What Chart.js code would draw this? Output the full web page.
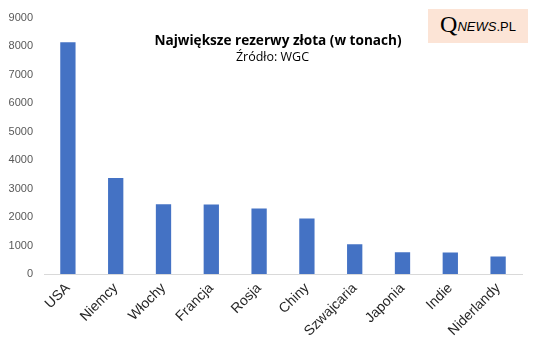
<!DOCTYPE html>
<html>
<head>
<meta charset="utf-8">
<script src="https://cdn.jsdelivr.net/npm/chart.js@4"></script>
<style>
  html, body { margin: 0; padding: 0; background: #fff; }
  #wrap { position: relative; width: 537px; height: 352px; }
  #title {
    position: absolute; left: 0; width: 556px; top: 30px; text-align: center;
    font: bold 13.6px "Open Sans", sans-serif; color: #000;
  }
  #subtitle {
    position: absolute; left: 0; width: 545px; top: 48px; text-align: center;
    font: 12.5px "Open Sans", sans-serif; color: #000;
  }
  #logo {
    position: absolute; left: 428px; top: 9px; width: 100px; height: 34px;
    background: #fce4d6; text-align: center; line-height: 34px; white-space: nowrap;
  }
  #logo .q { font: 24px "Liberation Serif", serif; vertical-align: -1px; }
  #logo .n { font: italic 13px "Liberation Sans", Arial, sans-serif; }
  #logo .p { font: 13px "Liberation Sans", Arial, sans-serif; }
</style>
</head>
<body>
<div id="wrap">
  <canvas id="goldChart" width="537" height="352"></canvas>
  <div id="title">Największe rezerwy złota (w tonach)</div>
  <div id="subtitle">Źródło: WGC</div>
  <div id="logo"><span class="q">Q</span><span class="n">NEWS</span><span class="p">.PL</span></div>
</div>
<script>
const countries = ['USA', 'Niemcy', 'Włochy', 'Francja', 'Rosja', 'Chiny', 'Szwajcaria', 'Japonia', 'Indie', 'Niderlandy'];
const tonnes = [8134, 3367, 2452, 2436, 2299, 1948, 1040, 765, 754, 612];
const yTicks = [0, 1000, 2000, 3000, 4000, 5000, 6000, 7000, 8000, 9000];

const ctx = document.getElementById('goldChart').getContext('2d');
new Chart(ctx, {
  type: 'bar',
  data: {
    labels: countries,
    datasets: [{
      data: tonnes,
      backgroundColor: '#4472c4',
      categoryPercentage: 1,
      barPercentage: 0.32
    }]
  },
  options: {
    responsive: false,
    animation: false,
    layout: { padding: { top: 14, right: 15, left: 0, bottom: 0 } },
    plugins: { legend: { display: false }, tooltip: { enabled: false } },
    scales: {
      x: {
        grid: { display: false, drawTicks: false },
        border: { display: true, color: '#d9d9d9', width: 1 },
        ticks: {
          minRotation: 45, maxRotation: 45, padding: 6,
          color: '#262626',
          font: { family: 'Liberation Sans', size: 14 }
        },
        afterFit: scale => { scale.height = 78; }
      },
      y: {
        min: 0, max: 9000,
        grid: { display: false, drawTicks: false },
        border: { display: false },
        afterBuildTicks: scale => { scale.ticks = yTicks.map(v => ({ value: v })); },
        ticks: {
          padding: 11,
          color: '#595959',
          font: { family: 'Liberation Sans', size: 11 },
          callback: v => String(v)
        },
        afterFit: scale => { scale.width = 44; }
      }
    }
  }
});
</script>
</body>
</html>
